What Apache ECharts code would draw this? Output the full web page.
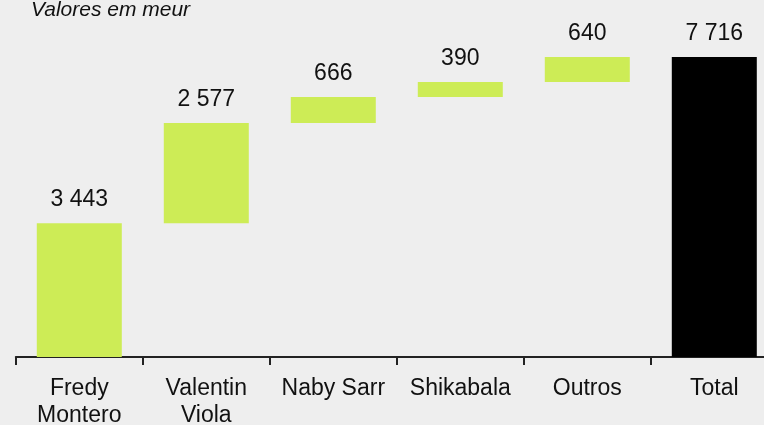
<!DOCTYPE html>
<html>
<head>
<meta charset="utf-8">
<script src="https://cdn.jsdelivr.net/npm/echarts@6/dist/echarts.min.js"></script>
<style>
html,body{margin:0;padding:0;background:#eeeeee;}
#c{width:764px;height:425px;}
</style>
</head>
<body>
<div id="c"></div>
<script>
const categories = ['Fredy\nMontero', 'Valentin\nViola', 'Naby Sarr', 'Shikabala', 'Outros', 'Total'];
const values = [3443, 2577, 666, 390, 640, 7716];
const isTotal = [false, false, false, false, false, true];
const titleText = 'Valores em meur';

// compute invisible bases for the waterfall
const bases = [];
let run = 0;
for (let i = 0; i < values.length; i++) {
  if (isTotal[i]) { bases.push(0); }
  else { bases.push(run); run += values[i]; }
}
const fmt = v => String(v).replace(/\B(?=(\d{3})+(?!\d))/g, ' ');
const FF = "'Liberation Sans', Arial, sans-serif";

const chart = echarts.init(document.getElementById('c'));
chart.setOption({
  backgroundColor: '#eeeeee',
  animation: false,
  textStyle: { fontFamily: FF },
  title: {
    text: titleText,
    left: 26, top: -5,
    textStyle: { fontSize: 21, fontStyle: 'italic', fontWeight: 'normal', color: '#111', fontFamily: FF }
  },
  grid: { left: 15.8, width: 762, top: 57, bottom: 68, containLabel: false, outerBoundsMode: 'none' },
  xAxis: {
    type: 'category',
    data: categories,
    axisLine: { lineStyle: { color: '#222', width: 2 } },
    axisTick: { show: true, length: 8, lineStyle: { color: '#222', width: 2 } },
    axisLabel: { color: '#111', fontSize: 23, lineHeight: 27, margin: 18, interval: 0, fontFamily: FF }
  },
  yAxis: {
    type: 'value', min: 0, max: 7716,
    show: false, splitLine: { show: false }
  },
  series: [
    {
      type: 'bar', stack: 'w', barWidth: 85,
      data: bases,
      itemStyle: { color: 'transparent' },
      emphasis: { disabled: true },
      silent: true
    },
    {
      type: 'bar', stack: 'w', barWidth: 85,
      data: values.map((v, i) => ({ value: v, itemStyle: { color: isTotal[i] ? '#000000' : '#cdec56' } })),
      label: {
        show: true, position: 'top', distance: 12,
        formatter: p => fmt(p.value),
        color: '#111', fontSize: 23, fontFamily: FF
      }
    }
  ]
});
</script>
</body>
</html>
